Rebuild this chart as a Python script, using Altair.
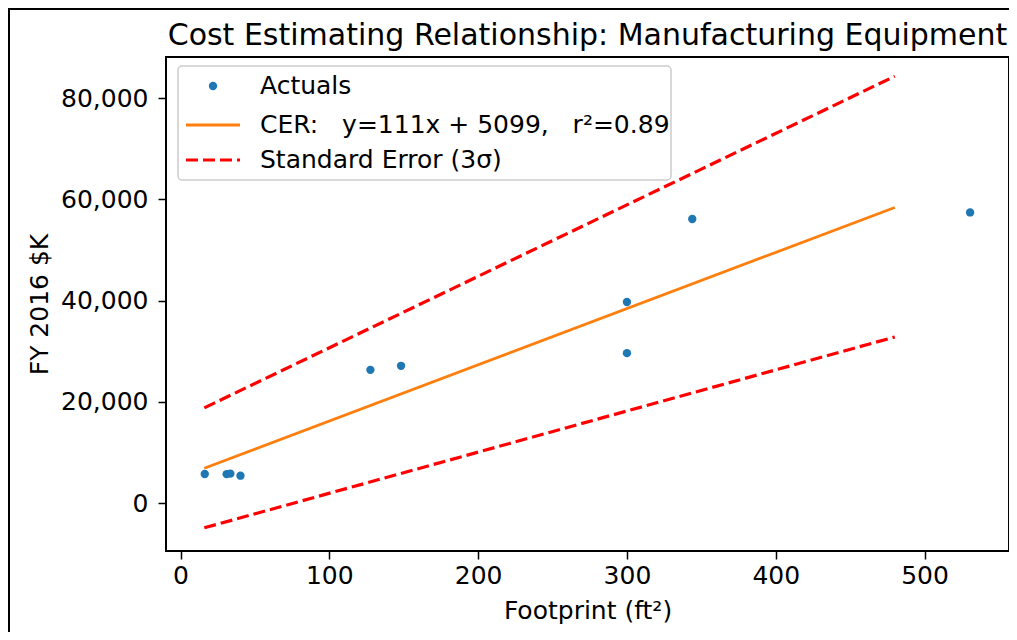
import altair as alt
import pandas as pd

# ---- data ----
actual_x = [16.3, 31.0, 33.5, 40.3, 127.6, 148.2, 300.0, 300.0, 343.9, 530.6]
actual_y = [5730, 5700, 5800, 5400, 26300, 27100, 39700, 29600, 56100, 57400]
cer_x = [16, 480]
cer_y = [6875, 58379]
se_x = [16, 480]
se_upper = [18800, 84300]
se_lower = [-4900, 32800]
x_ticks = [0, 100, 200, 300, 400, 500]
y_ticks = [0, 20000, 40000, 60000, 80000]
title_text = "Cost Estimating Relationship: Manufacturing Equipment"
x_title = "Footprint (ft\u00b2)"
y_title = "FY 2016 $K"
legend_labels = [
    "Actuals",
    "CER:\u00a0\u00a0\u00a0y=111x + 5099,\u00a0\u00a0\u00a0r\u00b2=0.89",
    "Standard Error (3\u03c3)",
]

FONT = "DejaVu Sans"
BLUE = "#1f77b4"
ORANGE = "#ff7f0e"
RED = "#ff0000"

pts_df = pd.DataFrame({"x": actual_x, "y": actual_y})
cer_df = pd.DataFrame({"x": cer_x, "y": cer_y})
se_df = pd.DataFrame({
    "x": se_x + se_x,
    "y": se_upper + se_lower,
    "band": ["upper"] * len(se_x) + ["lower"] * len(se_x),
})

xscale = alt.Scale(domain=[-9.75, 556.75], nice=False, zero=False)
yscale = alt.Scale(domain=[-9480, 88100], nice=False, zero=False)

common_axis = dict(
    grid=False, domain=False, ticks=True, tickColor="black", tickWidth=1.5,
    tickSize=8, labelFont=FONT, labelFontSize=25, labelColor="black",
    labelFlush=False, titleFont=FONT, titleFontSize=25,
    titleFontWeight="normal", titleColor="black",
)

X = alt.X("x:Q", scale=xscale, axis=alt.Axis(
    values=x_ticks, format="d", title=x_title, labelPadding=4,
    titleX=421.5, titleY=67, titleAlign="center", titleBaseline="alphabetic",
    **common_axis))
Y = alt.Y("y:Q", scale=yscale, axis=alt.Axis(
    values=y_ticks, format=",.0f", title=y_title, labelPadding=10,
    titleX=-119, titleY=247, titleAngle=270, titleAlign="center",
    titleBaseline="alphabetic", **common_axis))

points = alt.Chart(pts_df).mark_circle(size=70, color=BLUE, opacity=1).encode(x=X, y=Y)
cer = alt.Chart(cer_df).mark_line(color=ORANGE, strokeWidth=2.8).encode(x=X, y=Y)
se = alt.Chart(se_df).mark_line(color=RED, strokeWidth=3.2, strokeDash=[12, 5]).encode(
    x=X, y=Y, detail="band:N")

one = alt.Data(values=[{}])
title_mark = alt.Chart(one).mark_text(
    align="center", baseline="alphabetic", font=FONT, fontSize=30, color="black"
).encode(x=alt.value(421.5), y=alt.value(-12), text=alt.value(title_text))

plot_frame = alt.Chart(one).mark_rect(
    fill="transparent", stroke="black", strokeWidth=2
).encode(x=alt.value(0), x2=alt.value(843), y=alt.value(0), y2=alt.value(494))

leg_box = alt.Chart(one).mark_rect(
    fill="white", fillOpacity=0.85, stroke="#cccccc", strokeWidth=1.5, cornerRadius=4
).encode(x=alt.value(12), x2=alt.value(505), y=alt.value(9), y2=alt.value(123))
leg_pt = alt.Chart(one).mark_circle(size=70, color=BLUE, opacity=1).encode(
    x=alt.value(47), y=alt.value(29))
leg_cer = alt.Chart(one).mark_rule(color=ORANGE, strokeWidth=2.8).encode(
    x=alt.value(20), x2=alt.value(74), y=alt.value(68))
leg_se = alt.Chart(one).mark_rule(color=RED, strokeWidth=3.2, strokeDash=[12, 5]).encode(
    x=alt.value(20), x2=alt.value(74), y=alt.value(103))
leg_texts = [
    alt.Chart(one).mark_text(align="left", baseline="middle", font=FONT,
                             fontSize=25, color="black").encode(
        x=alt.value(94), y=alt.value(yy), text=alt.value(lbl))
    for lbl, yy in zip(legend_labels, [29, 68, 103])
]

frame_left = alt.Chart(one).mark_rule(color="black", strokeWidth=2).encode(
    x=alt.value(-157), y=alt.value(-49), y2=alt.value(575))
frame_top = alt.Chart(one).mark_rule(color="black", strokeWidth=2).encode(
    x=alt.value(-158), x2=alt.value(843), y=alt.value(-48))

chart = alt.layer(
    se, cer, points, leg_box, leg_pt, leg_cer, leg_se, *leg_texts,
    plot_frame, title_mark, frame_left, frame_top,
).properties(
    width=843, height=494,
    autosize=alt.AutoSizeParams(type="none"),
    padding={"left": 158, "top": 49, "right": 0, "bottom": 81},
).configure_view(stroke=None).configure(background="white")

chart.save("out.html", embed_options={"renderer": "svg", "actions": False})
